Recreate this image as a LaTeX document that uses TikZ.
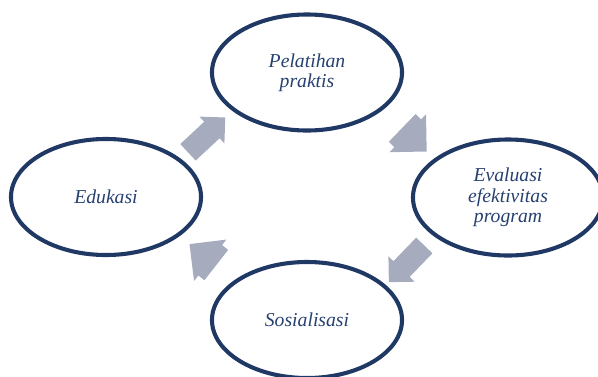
\documentclass[tikz,border=0pt]{standalone}
\usepackage{fontspec}
\setmainfont{Liberation Serif}
\usetikzlibrary{shapes.geometric,shapes.arrows,calc}
\definecolor{ringblue}{RGB}{31,56,100}
\definecolor{textblue}{RGB}{38,64,112}
\definecolor{arrowgray}{RGB}{166,172,189}

\begin{document}
\begin{tikzpicture}
  [x=0.025cm,y=-0.025cm,
   stage/.style={ellipse,draw=ringblue,line width=2.9pt,minimum width=4.75cm,minimum height=2.9cm,
     inner sep=0pt,align=center,text=textblue,font=\fontsize{14}{14.5}\selectfont\itshape},
   blockarrow/.style={single arrow,fill=arrowgray,draw=none,inner xsep=0pt,single arrow head extend=0.175cm}]
  \useasboundingbox (0,0) rectangle (598,376);
  \node[stage] (pel) at (307,72.5) {Pelatihan\\praktis};
  \node[stage] (edu) at (106,197) {Edukasi};
  \node[stage] (eva) at (508,197.5) {Evaluasi\\efektivitas\\program};
  \node[stage] (sos) at (307,320) {Sosialisasi};
  \foreach \from/\to/\ang/\len/\sh/\dx/\dy in {edu/pel/43/1.275cm/0.275cm/-4/4, pel/eva/-44/0.85cm/0.475cm/0/-2,
    eva/sos/-134/1.275cm/0.275cm/3/1, sos/edu/142/0.85cm/0.475cm/4/2}
    \node[blockarrow,rotate=\ang,minimum height=\len,inner ysep=\sh] (\from-\to) at ($(\from)!0.5!(\to)+(\dx,\dy)$) {};
\end{tikzpicture}
\end{document}
